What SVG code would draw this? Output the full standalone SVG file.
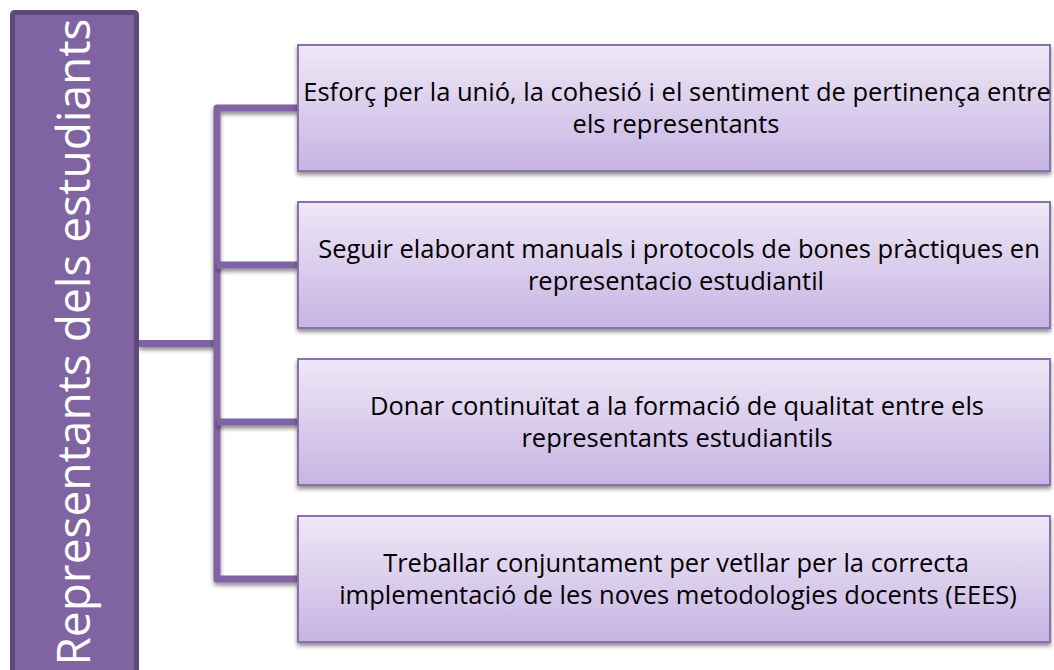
<svg xmlns="http://www.w3.org/2000/svg" width="1054" height="670" viewBox="0 0 1054 670">
<defs>
<linearGradient id="boxGrad" x1="0" y1="0" x2="0" y2="1">
<stop offset="0" stop-color="#eee8f6"/>
<stop offset="1" stop-color="#c7b4e3"/>
</linearGradient>
<filter id="shadow" filterUnits="userSpaceOnUse" x="0" y="0" width="1054" height="670">
<feDropShadow dx="0" dy="3" stdDeviation="2" flood-color="#000" flood-opacity="0.45"/>
</filter>
</defs>
<style>
.box{fill:url(#boxGrad);stroke:#8a70ad;stroke-width:2;filter:url(#shadow)}
.conn{fill:none;stroke:#8064a2;stroke-width:7;stroke-linejoin:round;filter:url(#shadow)}
.lbl{font-family:"Open Sans","Liberation Sans",sans-serif;font-size:25.5px;fill:#000;text-anchor:middle}
.title{font-family:"Open Sans","Liberation Sans",sans-serif;font-size:46px;fill:#fff;text-anchor:middle}
</style>
<rect width="1054" height="670" fill="#fff"/>
<g id="connectors">
<path class="conn" d="M139,343.5 H217"/>
<path class="conn" d="M298,108 H217 V579 H298"/>
<path class="conn" d="M217,265 H298"/>
<path class="conn" d="M217,422 H298"/>
</g>
<g id="root">
<rect x="12.5" y="12.5" width="124" height="700" rx="2" fill="#8064a2" stroke="#5f497a" stroke-width="5"/>
<text class="title" transform="translate(90,342) rotate(-90)">Representants dels estudiants</text>
</g>
<g id="node1">
<rect class="box" x="298" y="45" width="752" height="126"/>
<text class="lbl" x="677" y="101">Esforç per la unió, la cohesió i el sentiment de pertinença entre</text>
<text class="lbl" x="676" y="133">els representants</text>
</g>
<g id="node2">
<rect class="box" x="298" y="202" width="752" height="126"/>
<text class="lbl" x="679" y="258">Seguir elaborant manuals i protocols de bones pràctiques en</text>
<text class="lbl" x="676" y="290">representacio estudiantil</text>
</g>
<g id="node3">
<rect class="box" x="298" y="359" width="752" height="126"/>
<text class="lbl" x="677" y="415">Donar continuïtat a la formació de qualitat entre els</text>
<text class="lbl" x="677" y="447">representants estudiantils</text>
</g>
<g id="node4">
<rect class="box" x="298" y="516" width="752" height="126"/>
<text class="lbl" x="676" y="572">Treballar conjuntament per vetllar per la correcta</text>
<text class="lbl" x="678" y="604">implementació de les noves metodologies docents (EEES)</text>
</g>
</svg>
